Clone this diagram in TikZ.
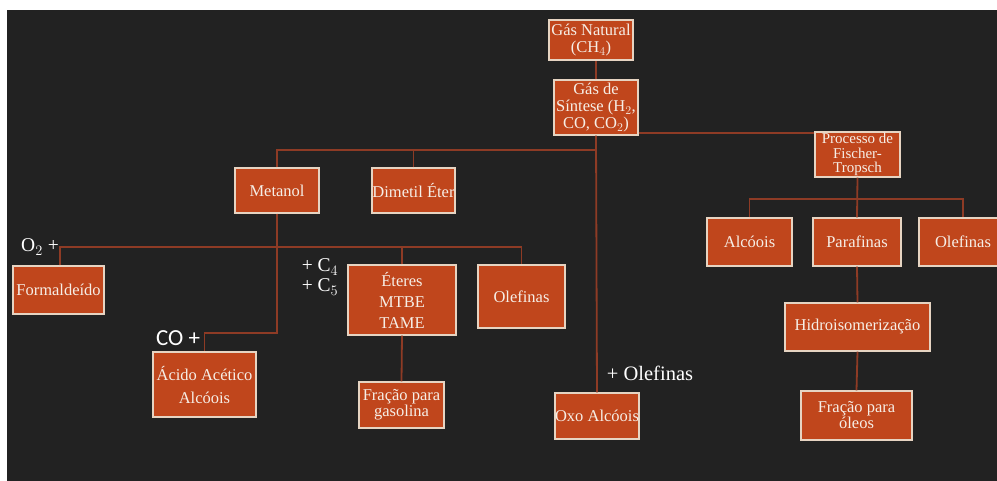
\documentclass[tikz,border=0pt]{standalone}
\usepackage{fontspec}
\setmainfont{Liberation Serif}
\newfontfamily\plainsans{Carlito}
\usepackage{tikz}
\usetikzlibrary{positioning}
\definecolor{figBg}{HTML}{222222}
\definecolor{figRust}{HTML}{C0461C}
\definecolor{figEdge}{HTML}{E6D4C2}
\definecolor{figLine}{HTML}{8E3B25}
\definecolor{figText}{HTML}{F6EEE6}

\begin{document}
\begin{tikzpicture}[x=1pt, y=-1pt,
  prod/.style={draw=figEdge, fill=figRust, line width=1.1pt, text=figText,
    font=\fontsize{16.5}{17}\selectfont, align=center, inner sep=0pt},
  conn/.style={draw=figLine, line width=1.8pt},
  plus/.style={text=white, font=\fontsize{19.5}{20}\selectfont, inner sep=0pt,
    align=left},
]

% === Page ===
\useasboundingbox (0,0) rectangle (997,481);
\clip (0,0) rectangle (997,481);
\fill[white] (0,0) rectangle (997,481);
\fill[figBg] (7,10) rectangle (997,481);

% === Source ===
\node[prod, minimum width=84pt, minimum height=40pt] (gas) at (591,40)
  {G\'as Natural\\(CH$_4$)};
\node[prod, minimum width=84pt, minimum height=55pt] (sintese) at (596,107.5)
  {G\'as de\\S\'intese (H$_2$,\\CO, CO$_2$)};

% === Second level ===
\node[prod, minimum width=84pt, minimum height=45pt] (metanol) at (277,190.5) {Metanol};
\node[prod, minimum width=83pt, minimum height=45pt] (dimetil) at (413.5,190.5) {Dimetil \'Eter};
\node[prod, minimum width=85pt, minimum height=45pt,
  font=\fontsize{15}{14.5}\selectfont] (fischer) at (857.5,154.5)
  {Processo de\\Fischer-\\Tropsch};
\node[prod, minimum width=84pt, minimum height=46pt] (oxo) at (597,416) {Oxo Alc\'oois};

% === Metanol products ===
\node[prod, minimum width=91pt, minimum height=48pt] (formal) at (58.5,290) {Formalde\'ido};
\node[prod, minimum width=108pt, minimum height=70pt,
  font=\fontsize{16.5}{21}\selectfont] (eteres) at (402,300) {\'Eteres\\MTBE\\TAME};
\node[prod, minimum width=87pt, minimum height=63pt] (olefA) at (521.5,296.5) {Olefinas};
\node[prod, minimum width=103pt, minimum height=65pt,
  font=\fontsize{16.5}{23}\selectfont] (acido) at (204.5,384.5) {\'Acido Ac\'etico\\Alc\'oois};
\node[prod, minimum width=85pt, minimum height=46pt,
  font=\fontsize{16.5}{16}\selectfont] (gasolina) at (401.5,405) {Fra\c{c}\~ao para\\gasolina};

% === Fischer-Tropsch products ===
\node[prod, minimum width=85pt, minimum height=48pt] (alcoois) at (749.5,242) {Alc\'oois};
\node[prod, minimum width=88pt, minimum height=48pt] (parafinas) at (857,242) {Parafinas};
\node[prod, minimum width=88pt, minimum height=48pt] (olefB) at (963,242) {Olefinas};
\node[prod, minimum width=145pt, minimum height=48pt] (hidro) at (857.5,327) {Hidroisomeriza\c{c}\~ao};
\node[prod, minimum width=111pt, minimum height=49pt,
  font=\fontsize{16.5}{16}\selectfont] (oleos) at (856.5,415.5) {Fra\c{c}\~ao para\\\'oleos};

% === Reagents ===
\node[plus] (o2) at (40,247) {O$_2$ +};
\node[plus] (c45) at (320,277) {+ C$_4$\\+ C$_5$};
\node[plus, font=\plainsans\fontsize{23}{24}\selectfont] (co) at (178,338) {CO +};
\node[plus, font=\fontsize{20.5}{22}\selectfont] (olefplus) at (650,373) {+ Olefinas};

% === Connectors ===
\coordinate (busS) at (596,150);
\coordinate (busM) at (277,247);
\coordinate (busCO) at (277,333);
\coordinate (busF) at (857.5,199);

\draw[conn] (sintese.north) -- (sintese.north |- gas.south);
\draw[conn] (sintese.south) -- (oxo.north);
\draw[conn] (metanol.north) |- (busS);
\draw[conn] (dimetil.north) -- (dimetil.north |- busS);
\draw[conn] ([yshift=2.5pt]sintese.south east) -- ([yshift=2.5pt]sintese.south east -| fischer.west);

\draw[conn] (metanol.south) -- (busCO) -| (acido.north);
\draw[conn] ([xshift=1.5pt]formal.north) |- (olefA.north |- busM) -- (olefA.north);
\draw[conn] (eteres.north) -- (eteres.north |- busM);
\draw[conn] (eteres.south) -- (gasolina.north);

\draw[conn] (fischer.south) -- (parafinas.north);
\draw[conn] (alcoois.north) |- (busF) -| (olefB.north);
\draw[conn] (parafinas.south) -- (hidro.north);
\draw[conn] (hidro.south) -- (oleos.north);

\end{tikzpicture}
\end{document}
